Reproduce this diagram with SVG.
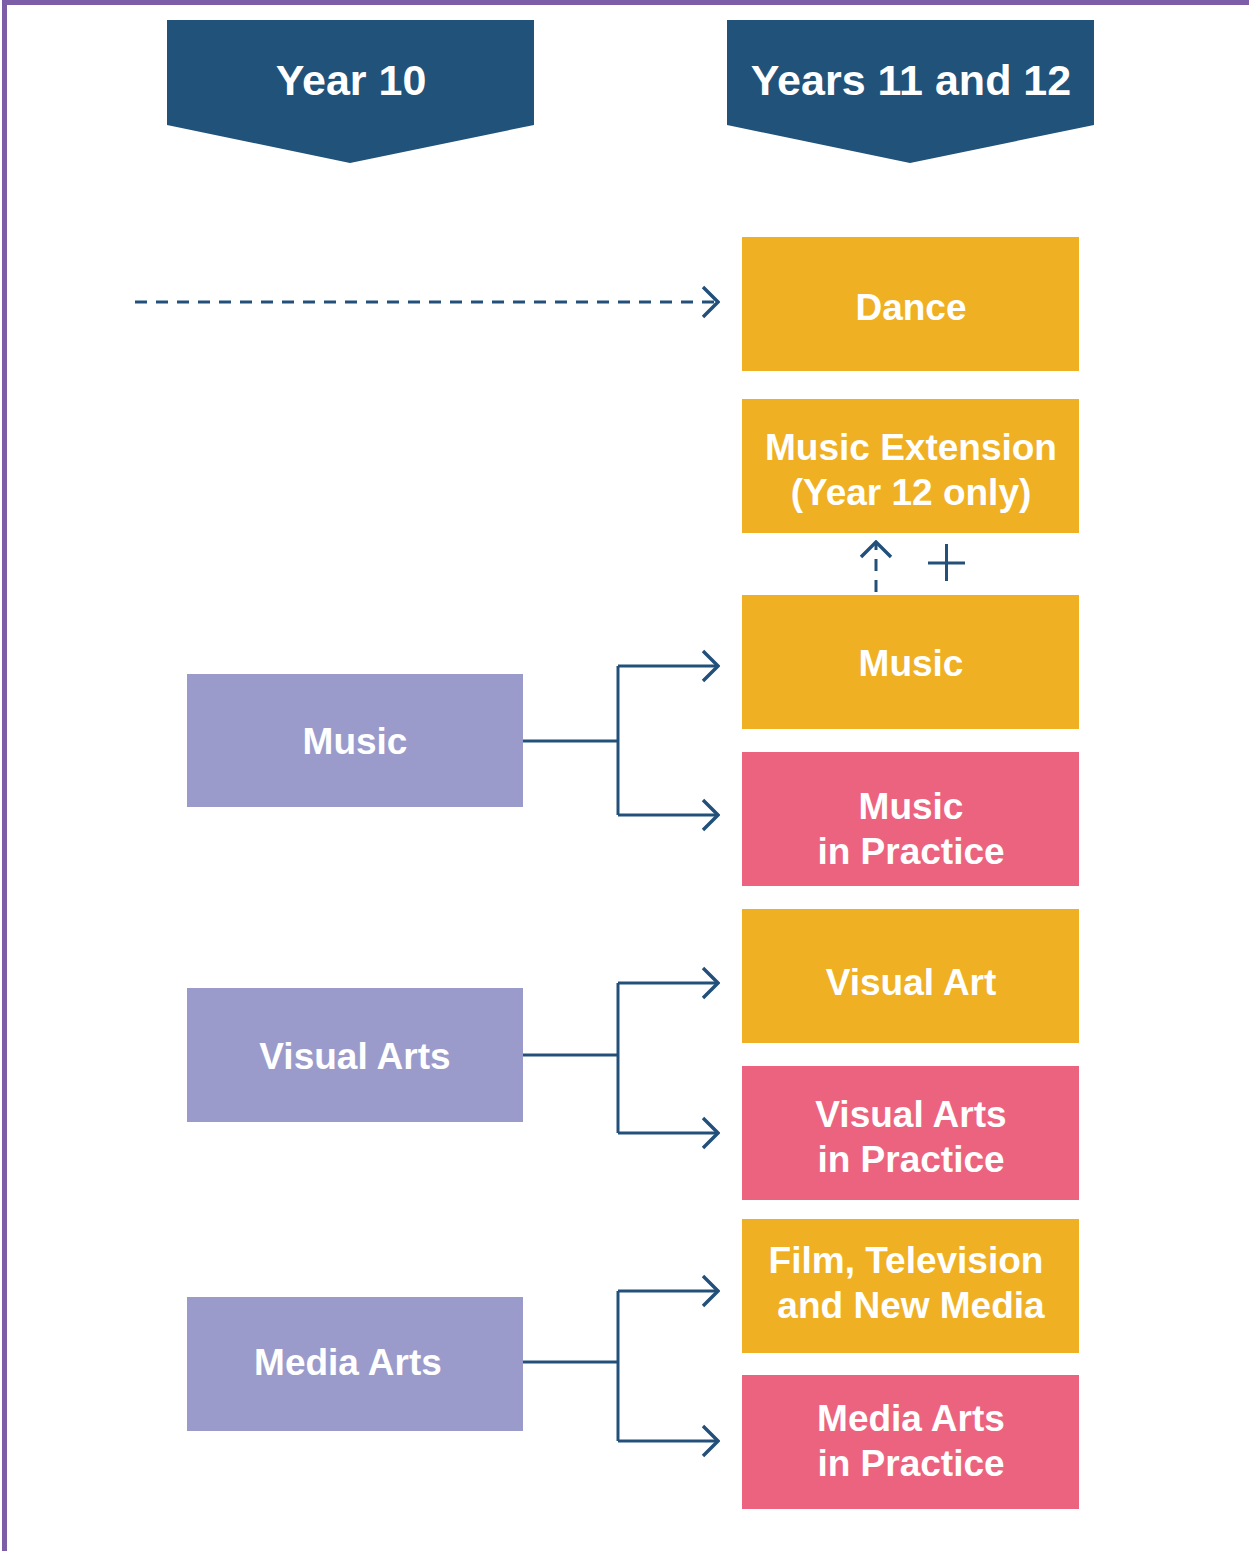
<svg xmlns="http://www.w3.org/2000/svg" width="1249" height="1551" viewBox="0 0 1249 1551">
  <defs>
    <style>
      .banner { fill: #21527A; }
      .y10 { fill: #9B9BCB; }
      .main { fill: #F0B023; }
      .prac { fill: #EC6380; }
      .lbl { font-family: "Liberation Sans", Arial, sans-serif; font-weight: bold; font-size: 37px; fill: #FFFFFF; text-anchor: middle; }
      .head { font-family: "Liberation Sans", Arial, sans-serif; font-weight: bold; font-size: 43px; fill: #FFFFFF; text-anchor: middle; }
      .wire { fill: none; stroke: #22507A; stroke-width: 3; }
      .dash { fill: none; stroke: #22507A; stroke-width: 3; stroke-dasharray: 12 9; }
    </style>
    <marker id="chev" viewBox="0 0 20 34" refX="18" refY="17" markerWidth="20" markerHeight="34" markerUnits="userSpaceOnUse" orient="auto">
      <path d="M3 2 L18 17 L3 32" fill="none" stroke="#22507A" stroke-width="3.4"/>
    </marker>
  </defs>

  <rect width="1249" height="1551" fill="#FFFFFF"/>
  <!-- page frame -->
  <path d="M4.5 1551 V2.5 H1249" fill="none" stroke="#7B5EA7" stroke-width="5"/>

  <!-- column headers -->
  <g id="hdr-year10">
    <polygon class="banner" points="167,20 534,20 534,125 350,163 167,125"/>
    <text class="head" x="351" y="95">Year 10</text>
  </g>
  <g id="hdr-year11-12">
    <polygon class="banner" points="727,20 1094,20 1094,125 910,163 727,125"/>
    <text class="head" x="911" y="95">Years 11 and 12</text>
  </g>

  <!-- Year 10 subjects -->
  <g id="y10-music">
    <rect class="y10" x="187" y="674" width="336" height="133"/>
    <text class="lbl" x="355" y="754">Music</text>
  </g>
  <g id="y10-visual-arts">
    <rect class="y10" x="187" y="988" width="336" height="134"/>
    <text class="lbl" x="355" y="1069">Visual Arts</text>
  </g>
  <g id="y10-media-arts">
    <rect class="y10" x="187" y="1297" width="336" height="134"/>
    <text class="lbl" x="348" y="1375">Media Arts</text>
  </g>

  <!-- Years 11 and 12 subjects -->
  <g id="dance">
    <rect class="main" x="742" y="237" width="337" height="134"/>
    <text class="lbl" x="911" y="320">Dance</text>
  </g>
  <g id="music-extension">
    <rect class="main" x="742" y="399" width="337" height="134"/>
    <text class="lbl" x="911" y="460">Music Extension</text>
    <text class="lbl" x="911" y="505">(Year 12 only)</text>
  </g>
  <g id="music">
    <rect class="main" x="742" y="595" width="337" height="134"/>
    <text class="lbl" x="911" y="676">Music</text>
  </g>
  <g id="music-in-practice">
    <rect class="prac" x="742" y="752" width="337" height="134"/>
    <text class="lbl" x="911" y="819">Music</text>
    <text class="lbl" x="911" y="864">in Practice</text>
  </g>
  <g id="visual-art">
    <rect class="main" x="742" y="909" width="337" height="134"/>
    <text class="lbl" x="911" y="995">Visual Art</text>
  </g>
  <g id="visual-arts-in-practice">
    <rect class="prac" x="742" y="1066" width="337" height="134"/>
    <text class="lbl" x="911" y="1127">Visual Arts</text>
    <text class="lbl" x="911" y="1172">in Practice</text>
  </g>
  <g id="film-tv-new-media">
    <rect class="main" x="742" y="1219" width="337" height="134"/>
    <text class="lbl" x="906" y="1273">Film, Television</text>
    <text class="lbl" x="911" y="1318">and New Media</text>
  </g>
  <g id="media-arts-in-practice">
    <rect class="prac" x="742" y="1375" width="337" height="134"/>
    <text class="lbl" x="911" y="1431">Media Arts</text>
    <text class="lbl" x="911" y="1476">in Practice</text>
  </g>

  <!-- connectors -->
  <g id="connectors">
    <path class="dash" d="M135 302 H718" marker-end="url(#chev)"/>
    <path class="dash" d="M876 592 V542" marker-end="url(#chev)"/>
    <path class="wire" d="M928 563 H965 M946.5 544 V581"/>

    <path class="wire" d="M523 741 H618"/>
    <path class="wire" d="M618 666 V815"/>
    <path class="wire" d="M618 666 H718" marker-end="url(#chev)"/>
    <path class="wire" d="M618 815 H718" marker-end="url(#chev)"/>

    <path class="wire" d="M523 1055 H618"/>
    <path class="wire" d="M618 983 V1133"/>
    <path class="wire" d="M618 983 H718" marker-end="url(#chev)"/>
    <path class="wire" d="M618 1133 H718" marker-end="url(#chev)"/>

    <path class="wire" d="M523 1362 H618"/>
    <path class="wire" d="M618 1291 V1441"/>
    <path class="wire" d="M618 1291 H718" marker-end="url(#chev)"/>
    <path class="wire" d="M618 1441 H718" marker-end="url(#chev)"/>
  </g>
</svg>
